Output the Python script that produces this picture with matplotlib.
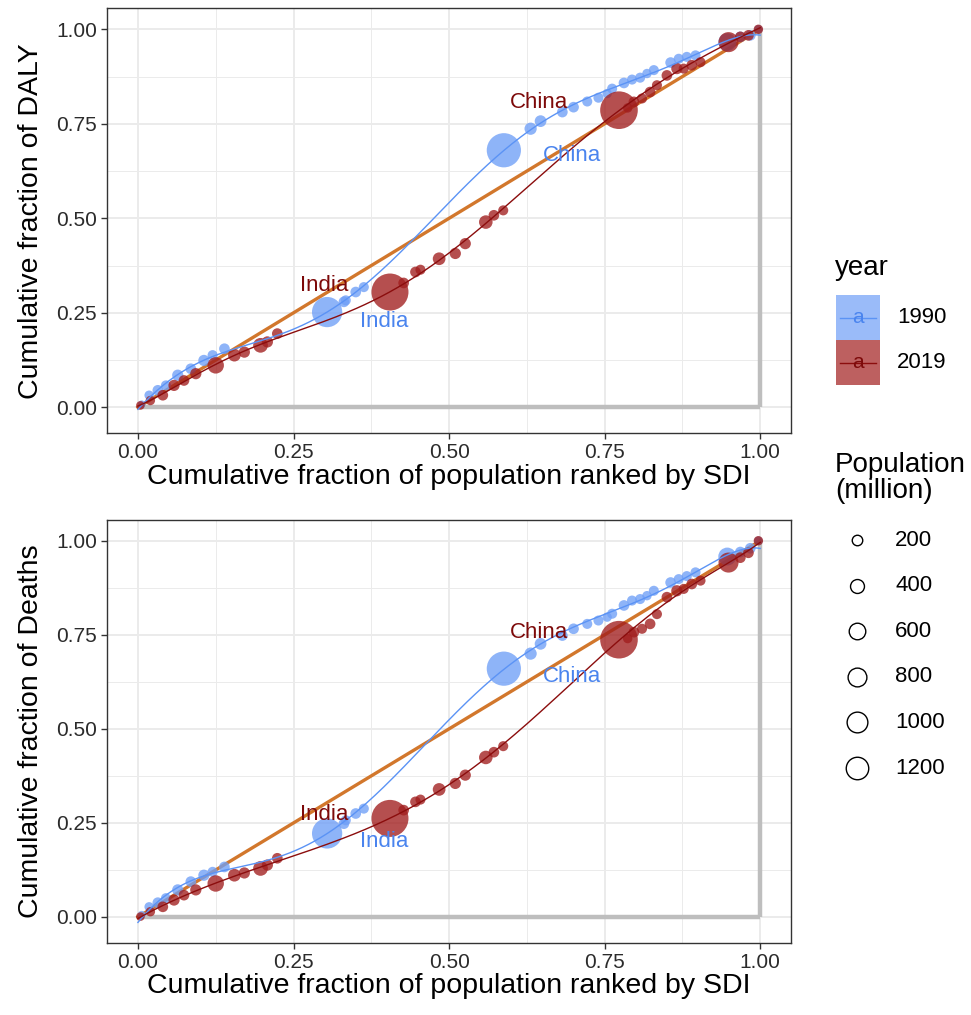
import numpy as np
import matplotlib
matplotlib.use("Agg")
import matplotlib.pyplot as plt
from matplotlib.patches import Rectangle
from matplotlib.lines import Line2D

plt.rcParams['font.family'] = ['Liberation Sans', 'DejaVu Sans']

# ---- data ----
# 1990: cumulative population (ranked by SDI), cumulative DALY, cumulative deaths, population (million)
x_1990 = [0.006, 0.018, 0.032, 0.045, 0.064, 0.085, 0.106, 0.120, 0.139,
          0.304, 0.331, 0.334, 0.350, 0.363,
          0.588, 0.631, 0.647, 0.682, 0.700, 0.722, 0.740, 0.754, 0.762,
          0.781, 0.794, 0.807, 0.818, 0.829, 0.856, 0.869, 0.882, 0.896,
          0.947, 0.968, 0.984, 0.997]
daly_1990 = [0.008, 0.032, 0.045, 0.058, 0.085, 0.102, 0.124, 0.138, 0.155,
             0.252, 0.279, 0.283, 0.305, 0.318,
             0.680, 0.737, 0.757, 0.781, 0.794, 0.809, 0.819, 0.830, 0.843,
             0.858, 0.867, 0.872, 0.883, 0.892, 0.912, 0.922, 0.927, 0.931,
             0.966, 0.980, 0.984, 1.000]
deaths_1990 = [0.006, 0.027, 0.038, 0.050, 0.072, 0.094, 0.111, 0.120, 0.133,
               0.222, 0.248, 0.257, 0.275, 0.288,
               0.660, 0.700, 0.726, 0.748, 0.766, 0.779, 0.788, 0.797, 0.806,
               0.828, 0.841, 0.845, 0.854, 0.867, 0.889, 0.898, 0.906, 0.916,
               0.958, 0.970, 0.980, 1.000]
pop_1990 = [20, 40, 60, 50, 70, 60, 70, 50, 60,
            870, 60, 50, 60, 50,
            1150, 90, 80, 60, 60, 50, 50, 40, 50,
            60, 50, 50, 40, 50, 60, 50, 50, 50,
            250, 60, 60, 30]

x_2019 = [0.004, 0.020, 0.040, 0.058, 0.074, 0.093, 0.125, 0.155, 0.171, 0.197, 0.208, 0.224,
          0.405, 0.427, 0.446, 0.454, 0.484, 0.510, 0.526, 0.559, 0.572, 0.587,
          0.773, 0.787, 0.797, 0.810, 0.823, 0.834, 0.850, 0.866, 0.877, 0.890, 0.904,
          0.949, 0.968, 0.981, 0.997]
daly_2019 = [0.005, 0.018, 0.032, 0.058, 0.071, 0.089, 0.111, 0.138, 0.146, 0.164, 0.173, 0.195,
             0.305, 0.329, 0.358, 0.364, 0.393, 0.407, 0.433, 0.490, 0.508, 0.521,
             0.786, 0.792, 0.808, 0.817, 0.834, 0.852, 0.878, 0.896, 0.896, 0.905, 0.913,
             0.966, 0.980, 0.984, 1.000]
deaths_2019 = [0.001, 0.014, 0.027, 0.045, 0.058, 0.072, 0.089, 0.111, 0.117, 0.129, 0.138, 0.156,
               0.262, 0.284, 0.306, 0.312, 0.339, 0.355, 0.377, 0.424, 0.438, 0.454,
               0.737, 0.740, 0.757, 0.766, 0.779, 0.805, 0.850, 0.867, 0.872, 0.885, 0.894,
               0.942, 0.955, 0.968, 1.000]
pop_2019 = [30, 40, 60, 70, 60, 70, 200, 100, 70, 150, 70, 60,
            1370, 60, 60, 50, 100, 70, 70, 120, 60, 50,
            1420, 40, 60, 50, 60, 50, 60, 70, 50, 60, 50,
            330, 60, 60, 40]

# label positions (data coords) for India / China
labels_daly = {'1990': [('India', 0.395, 0.228), ('China', 0.698, 0.665)],
               '2019': [('India', 0.299, 0.322), ('China', 0.644, 0.806)]}
labels_deaths = {'1990': [('India', 0.395, 0.200), ('China', 0.698, 0.640)],
                 '2019': [('India', 0.299, 0.272), ('China', 0.644, 0.756)]}

legend_sizes = [200, 400, 600, 800, 1000, 1200]

col_pt = {'1990': '#6f9ff7', '2019': '#a11d1d'}
col_line = {'1990': '#5b93f5', '2019': '#8b0d0d'}
col_txt = {'1990': '#4a84ee', '2019': '#7d0a0a'}


def size_pts(pop):
    # marker area (points^2); diameter in px grows with sqrt(pop)
    d = 3.7 + 0.9 * np.sqrt(np.array(pop, dtype=float))
    return (0.72 * d) ** 2


def smooth(x, y, w, deg=5):
    x = np.array(x); y = np.array(y); w = np.sqrt(np.array(w, dtype=float))
    c = np.polyfit(x, y, deg, w=w)
    xs = np.linspace(0, 1, 300)
    return xs, np.polyval(c, xs)


def panel(ax, y90, y19, ylab, labels):
    ax.set_facecolor('white')
    for v in np.arange(0, 1.01, 0.125):
        lw = 1.4 if abs(v * 4 - round(v * 4)) < 1e-6 else 0.7
        ax.axvline(v, color='#ebebeb', lw=lw, zorder=0)
        ax.axhline(v, color='#ebebeb', lw=lw, zorder=0)
    ax.plot([0, 1], [0, 0], color='#bebebe', lw=3.2, zorder=1, solid_capstyle='butt')
    ax.plot([1, 1], [0, 1], color='#bebebe', lw=3.2, zorder=1, solid_capstyle='butt')
    ax.plot([0, 1], [0, 1], color='#d2772c', lw=2.4, zorder=2)

    for yr, xx, yy, pp in [('1990', x_1990, y90, pop_1990), ('2019', x_2019, y19, pop_2019)]:
        ax.scatter(xx, yy, s=size_pts(pp), color=col_pt[yr], alpha=0.78,
                   edgecolors='none', zorder=3)
        xs, ys = smooth(xx, yy, pp, deg=7)
        ax.plot(xs, ys, color=col_line[yr], lw=1.0, zorder=4)
        for name, tx, ty in labels[yr]:
            ax.text(tx, ty, name, color=col_txt[yr], fontsize=16, ha='center', va='center', zorder=5)

    ax.set_xlim(-0.05, 1.05)
    ax.set_ylim(-0.069, 1.056)
    ticks = [0, 0.25, 0.5, 0.75, 1.0]
    ax.set_xticks(ticks)
    ax.set_yticks(ticks)
    ax.set_xticklabels(['0.00', '0.25', '0.50', '0.75', '1.00'], fontsize=15)
    ax.set_yticklabels(['0.00', '0.25', '0.50', '0.75', '1.00'], fontsize=15)
    ax.tick_params(length=4, width=1, color='#333333', labelcolor='#2b2b2b', pad=3)
    for s in ax.spines.values():
        s.set_color('#333333')
        s.set_linewidth(1.0)
    ax.set_xlabel('Cumulative fraction of population ranked by SDI', fontsize=20.5, labelpad=1)
    ax.set_ylabel(ylab, fontsize=20.5, labelpad=9)


fig = plt.figure(figsize=(9.71, 10.15), dpi=100)
ax1 = fig.add_axes([0.110, 0.573, 0.705, 0.419])
ax2 = fig.add_axes([0.110, 0.071, 0.705, 0.417])
panel(ax1, daly_1990, daly_2019, 'Cumulative fraction of DALY', labels_daly)
panel(ax2, deaths_1990, deaths_2019, 'Cumulative fraction of Deaths', labels_deaths)

# ---- legends drawn in figure pixel coords ----
W, H = 971, 1015
def fx(px): return px / W
def fy(py): return 1 - py / H

fig.text(fx(835), fy(268), 'year', fontsize=20, va='center', ha='left')
for i, yr in enumerate(['1990', '2019']):
    top = 295 + i * 45
    fig.patches.append(Rectangle((fx(836), fy(top + 45)), fx(44), 45 / H,
                                 transform=fig.transFigure, facecolor=col_pt[yr],
                                 alpha=0.7, edgecolor='none'))
    fig.lines.append(Line2D([fx(840), fx(876)], [fy(top + 22.5)] * 2,
                            transform=fig.transFigure, color=col_line[yr], lw=1))
    fig.text(fx(858), fy(top + 22.5), 'a', color=col_txt[yr], fontsize=15,
             ha='center', va='center')
    fig.text(fx(897), fy(top + 22.5), yr, fontsize=16, va='center', ha='left')

fig.text(fx(835), fy(478), 'Population\n(million)', fontsize=20, va='center', ha='left',
         linespacing=1.0)
for i, v in enumerate(legend_sizes):
    yy = 540 + i * 45.6
    d = 10.5 + 12 * (np.sqrt(v) - np.sqrt(200)) / (np.sqrt(1200) - np.sqrt(200))
    fig.lines.append(Line2D([fx(857)], [fy(yy)], transform=fig.transFigure, marker='o',
                            markersize=d * 0.72, markerfacecolor='none',
                            markeredgecolor='black', markeredgewidth=1.0, linestyle='none'))
    fig.text(fx(895), fy(yy), str(v), fontsize=16, va='center', ha='left')

fig.savefig('out.png', dpi=100)
